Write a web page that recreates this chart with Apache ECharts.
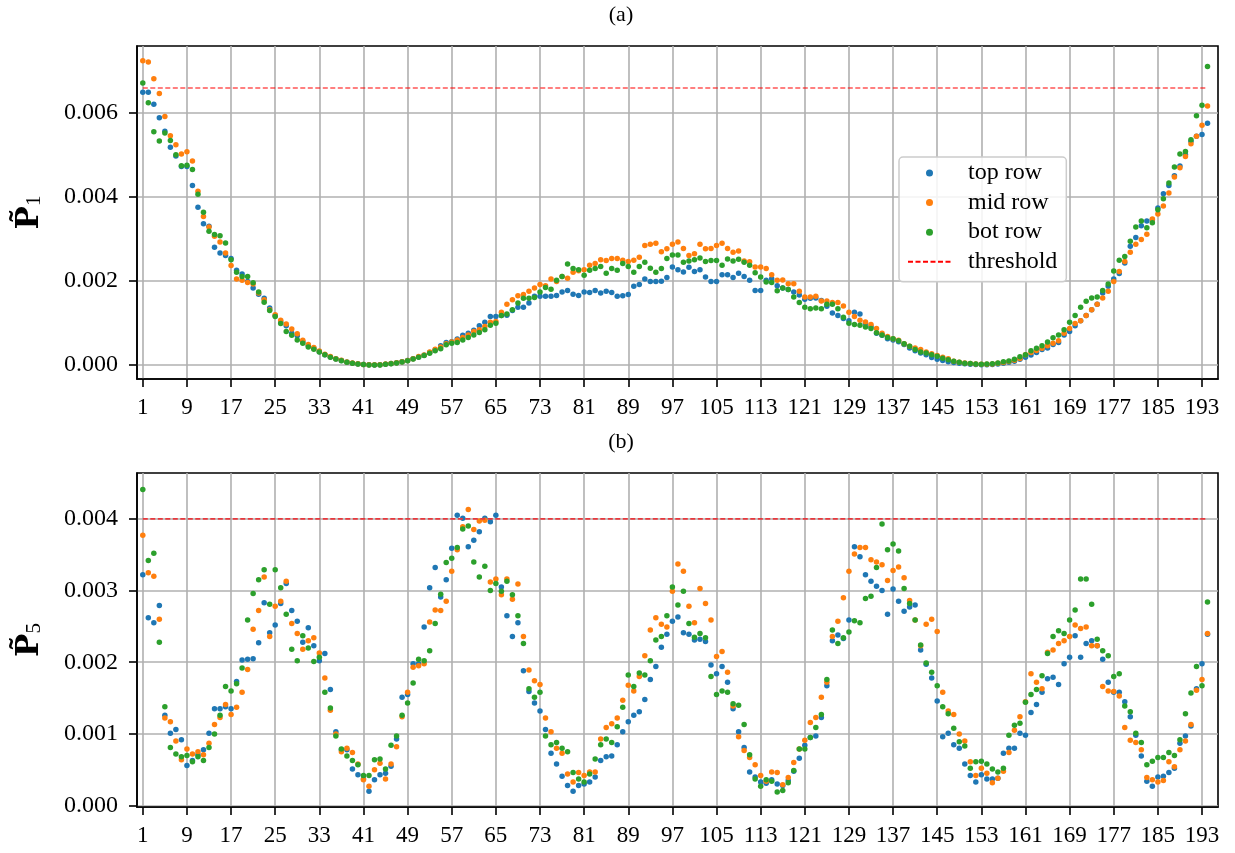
<!DOCTYPE html>
<html><head><meta charset="utf-8">
<script src="https://cdn.jsdelivr.net/npm/echarts@6/dist/echarts.min.js"></script>
<style>html,body{margin:0;padding:0;background:#fff}#c{width:1235px;height:853px}</style>
</head><body><div id="c"></div>
<script>
// values are in units of 1e-3
const xTicks = [1,9,17,25,33,41,49,57,65,73,81,89,97,105,113,121,129,137,145,153,161,169,177,185,193];
const p1Ticks = [0,2,4,6];
const p5Ticks = [0,1,2,3,4];
const p1Threshold = 6.60;
const p5Threshold = 4.00;

const p1Top = [
6.50,6.50,6.21,5.89,5.57,5.19,4.98,4.73,4.73,4.28,
3.76,3.37,3.31,2.81,2.67,2.61,2.54,2.26,2.17,1.99,
1.84,1.69,1.59,1.36,1.18,1.03,0.94,0.76,0.70,0.56,
0.46,0.40,0.32,0.25,0.195,0.148,0.108,0.070,0.046,0.030,
0.016,0.008,0.006,0.008,0.022,0.038,0.055,0.078,0.110,0.150,
0.195,0.238,0.30,0.365,0.46,0.54,0.56,0.62,0.71,0.76,
0.83,0.94,1.02,1.16,1.16,1.18,1.19,1.30,1.38,1.38,
1.48,1.64,1.64,1.64,1.64,1.66,1.74,1.78,1.69,1.66,
1.74,1.73,1.78,1.72,1.76,1.73,1.64,1.65,1.68,1.88,
1.92,2.05,1.99,1.99,2.00,2.09,2.34,2.27,2.22,2.33,
2.23,2.27,2.10,1.99,1.99,2.15,2.15,2.09,2.19,2.11,
2.02,1.78,1.78,2.02,2.06,1.89,1.84,1.80,1.74,1.67,
1.57,1.59,1.60,1.54,1.40,1.24,1.18,1.11,1.06,1.26,
1.22,1.00,0.92,0.76,0.71,0.63,0.60,0.56,0.49,0.41,
0.34,0.29,0.25,0.18,0.143,0.111,0.079,0.060,0.045,0.032,
0.024,0.016,0.010,0.010,0.018,0.030,0.048,0.070,0.095,0.143,
0.19,0.24,0.30,0.37,0.41,0.49,0.54,0.72,0.80,0.94,
1.06,1.18,1.32,1.45,1.72,1.88,2.05,2.18,2.43,2.83,
3.04,3.32,3.43,3.46,3.74,4.08,4.28,4.51,4.74,5.01,
5.33,5.45,5.49,5.76];
const p1Mid = [
7.25,7.22,6.82,6.47,5.92,5.46,5.25,5.03,5.08,4.86,
4.14,3.54,3.29,3.07,2.93,2.67,2.37,2.05,2.02,1.97,
1.93,1.72,1.56,1.32,1.20,1.07,0.98,0.86,0.75,0.59,
0.49,0.42,0.334,0.262,0.203,0.155,0.115,0.075,0.050,0.034,
0.018,0.010,0.010,0.012,0.026,0.042,0.058,0.082,0.113,0.153,
0.203,0.242,0.31,0.38,0.43,0.51,0.55,0.60,0.66,0.72,
0.80,0.84,0.92,1.02,1.04,1.26,1.45,1.56,1.65,1.68,
1.76,1.84,1.92,1.89,2.05,1.99,2.11,2.07,2.21,2.25,
2.27,2.38,2.42,2.51,2.49,2.54,2.54,2.50,2.47,2.50,
2.57,2.85,2.88,2.90,2.70,2.77,2.88,2.93,2.78,2.61,
2.65,2.88,2.77,2.78,2.85,2.90,2.78,2.69,2.72,2.48,
2.46,2.34,2.34,2.30,2.15,2.02,2.03,1.94,1.94,1.76,
1.62,1.62,1.64,1.53,1.53,1.49,1.49,1.41,1.26,1.16,
1.07,1.03,0.97,0.87,0.76,0.68,0.63,0.59,0.51,0.45,
0.41,0.37,0.31,0.27,0.23,0.19,0.151,0.095,0.068,0.050,
0.040,0.030,0.022,0.022,0.030,0.046,0.064,0.087,0.119,0.159,
0.25,0.30,0.35,0.40,0.46,0.52,0.58,0.76,0.87,0.99,
1.06,1.18,1.32,1.45,1.60,1.76,1.99,2.23,2.47,2.69,
2.88,2.99,3.12,3.48,3.60,3.79,4.10,4.48,4.70,4.97,
5.27,5.45,5.71,6.17];
const p1Bot = [
6.72,6.25,5.56,5.34,5.53,5.35,5.01,4.75,4.76,4.66,
4.07,3.64,3.19,3.11,3.08,2.91,2.51,2.21,2.11,2.11,
1.96,1.74,1.50,1.30,1.16,0.99,0.80,0.71,0.60,0.52,
0.43,0.38,0.31,0.245,0.19,0.145,0.105,0.068,0.044,0.028,
0.014,0.006,0.004,0.006,0.020,0.036,0.052,0.075,0.106,0.148,
0.190,0.230,0.286,0.342,0.389,0.485,0.524,0.54,0.60,0.66,
0.72,0.78,0.84,0.95,1.00,1.18,1.22,1.32,1.48,1.59,
1.59,1.61,1.74,1.85,1.81,2.02,2.11,2.41,2.30,2.27,
2.14,2.26,2.30,2.35,2.19,2.30,2.26,2.42,2.35,2.21,
2.35,2.45,2.31,2.21,2.30,2.54,2.62,2.62,2.45,2.48,
2.51,2.55,2.47,2.49,2.49,2.38,2.53,2.48,2.52,2.45,
2.38,2.20,2.10,1.98,1.97,1.77,1.84,1.80,1.62,1.49,
1.38,1.34,1.36,1.34,1.45,1.45,1.34,1.14,1.00,0.97,
0.95,0.91,0.87,0.77,0.72,0.66,0.63,0.58,0.51,0.45,
0.37,0.31,0.29,0.25,0.21,0.167,0.127,0.090,0.066,0.048,
0.038,0.030,0.024,0.026,0.036,0.052,0.080,0.100,0.143,0.199,
0.25,0.34,0.40,0.46,0.55,0.65,0.72,0.84,1.02,1.18,
1.38,1.52,1.60,1.62,1.78,1.93,2.24,2.50,2.59,2.95,
3.29,3.43,3.27,3.39,3.70,3.96,4.34,4.72,5.03,5.09,
5.37,5.94,6.19,7.11];

const p5Top = [
3.22,2.62,2.55,2.79,1.26,1.01,1.06,0.92,0.56,0.63,
0.71,0.78,1.01,1.35,1.35,1.38,1.35,1.73,2.03,2.04,
2.05,2.27,2.83,2.41,2.52,2.82,3.10,2.72,2.57,2.28,
2.48,2.23,2.02,2.12,1.62,1.03,0.78,0.78,0.51,0.43,
0.37,0.20,0.36,0.43,0.45,0.55,0.93,1.51,1.55,1.98,
1.98,2.49,3.04,3.32,2.91,3.15,3.59,4.05,4.01,3.61,
3.70,3.82,4.01,3.96,4.05,3.05,2.65,2.36,2.55,1.88,
1.59,1.43,1.32,1.06,0.73,0.58,0.41,0.28,0.20,0.28,
0.30,0.33,0.40,0.63,0.68,0.69,0.85,1.03,1.17,1.26,
1.31,1.48,1.76,1.94,2.21,2.39,2.57,2.63,2.41,2.39,
2.31,2.32,2.29,1.96,1.84,1.94,1.72,1.35,1.03,0.81,
0.47,0.40,0.33,0.31,0.36,0.30,0.28,0.35,0.48,0.66,
0.84,0.95,0.97,1.23,1.67,2.30,2.38,2.33,2.59,3.61,
3.47,3.22,3.13,3.06,3.00,2.67,3.02,2.85,2.71,2.77,
2.80,2.17,1.97,1.78,1.46,0.96,1.01,0.85,0.80,0.58,
0.42,0.33,0.43,0.37,0.37,0.38,0.73,0.80,0.80,1.01,
0.98,1.30,1.41,1.58,1.77,1.79,1.69,1.98,2.07,2.37,
2.07,2.26,2.30,2.23,2.04,1.72,1.58,1.58,1.45,1.24,
0.98,0.69,0.34,0.27,0.40,0.41,0.46,0.52,0.87,0.97,
1.11,1.63,1.98,2.39];
const p5Mid = [
3.77,3.25,3.20,2.60,1.22,1.17,0.90,0.64,0.79,0.72,
0.75,0.71,0.87,1.13,1.23,1.41,1.27,1.37,1.58,1.90,
2.46,2.72,3.19,2.36,2.78,2.85,3.13,2.54,2.40,2.18,
2.30,2.34,2.13,1.78,1.33,1.00,0.75,0.80,0.74,0.58,
0.36,0.27,0.50,0.59,0.37,0.58,0.82,1.24,1.58,1.93,
1.95,1.98,2.56,2.73,2.72,2.85,3.27,3.57,3.89,4.13,
3.85,3.97,3.98,3.12,3.16,2.94,3.16,2.88,3.09,2.36,
1.89,1.74,1.69,1.22,1.03,0.80,0.73,0.44,0.33,0.46,
0.42,0.47,0.47,0.93,1.09,1.14,1.22,1.47,1.68,1.60,
1.80,2.09,2.45,2.62,2.53,2.49,2.99,3.37,3.27,2.78,
2.55,3.03,2.82,2.59,2.08,2.15,1.86,1.39,0.96,0.77,
0.67,0.57,0.42,0.34,0.47,0.46,0.29,0.39,0.60,0.79,
0.91,1.16,1.23,1.51,1.72,2.36,2.57,2.90,3.27,3.51,
3.60,3.60,3.43,3.40,3.36,3.14,3.28,3.33,3.18,2.86,
2.59,2.23,2.53,2.60,2.43,1.58,1.32,1.27,1.00,0.90,
0.61,0.42,0.52,0.45,0.32,0.38,0.48,0.74,1.05,1.24,
1.45,1.84,1.72,1.63,2.14,2.17,2.26,2.30,2.36,2.52,
2.47,2.49,2.23,2.23,1.66,1.60,1.59,1.53,1.09,0.91,
0.88,0.78,0.39,0.36,0.33,0.35,0.61,0.54,0.78,0.90,
1.13,1.61,1.76,2.40];
const p5Bot = [
4.41,3.42,3.52,2.28,1.38,0.81,0.72,0.68,0.70,0.61,
0.68,0.63,0.81,1.00,1.26,1.66,1.60,1.70,1.92,2.59,
2.96,3.15,3.29,2.81,3.29,3.04,2.67,2.18,2.02,2.37,
2.20,2.01,2.07,1.58,1.36,0.97,0.79,0.69,0.63,0.57,
0.42,0.42,0.64,0.65,0.51,0.84,0.97,1.26,1.43,1.71,
2.04,2.02,2.16,2.54,2.95,3.39,3.45,3.60,3.86,3.90,
3.40,3.19,3.34,3.00,3.10,2.99,3.13,2.94,2.65,2.26,
1.63,1.51,1.58,0.97,0.85,0.88,0.80,0.75,0.46,0.37,
0.33,0.44,0.65,0.85,0.93,0.88,1.10,1.37,1.82,1.66,
1.85,1.82,2.02,2.31,2.36,2.65,3.05,2.80,2.99,2.54,
2.35,2.40,2.34,1.80,1.55,1.60,1.58,1.42,1.40,1.13,
0.71,0.37,0.27,0.36,0.34,0.19,0.21,0.32,0.49,0.79,
0.79,0.95,1.09,1.27,1.76,2.45,2.26,2.34,2.42,2.58,
2.55,2.89,2.92,3.32,3.93,3.57,3.65,3.55,3.03,2.82,
2.59,2.24,1.99,1.86,1.67,1.38,1.28,1.08,0.89,0.83,
0.52,0.61,0.62,0.58,0.51,0.47,0.52,0.98,1.12,1.15,
1.44,1.55,1.62,1.81,2.12,2.36,2.44,2.40,2.59,2.73,
3.16,3.16,2.81,2.32,2.16,2.09,1.80,1.84,1.39,1.31,
1.01,0.88,0.57,0.62,0.67,0.67,0.74,0.70,0.92,1.28,
1.57,1.94,1.67,2.84];

const seriesNames = ['top row','mid row','bot row'];
const colors = ['#1f77b4','#ff7f0e','#2ca02c'];

[p1Top,p1Mid,p1Bot,p5Top,p5Mid,p5Bot].forEach((a,k)=>{ if(a.length!==194) throw new Error('array '+k+' has '+a.length); });

const serif = 'Liberation Serif';
const positions = p1Top.map((_, i) => i + 1);

function scatter(name, color, arr, g) {
  return { type:'scatter', name, xAxisIndex:g, yAxisIndex:g, symbol:'circle', symbolSize:5.5,
    itemStyle:{ color, opacity:1 }, silent:true,
    data: arr.map((v,i)=>[positions[i], v]) };
}
function thresholdLine(val, g, color, width) {
  return { type:'line', name:'threshold', xAxisIndex:g, yAxisIndex:g, symbol:'none', silent:true,
    itemStyle:{ color },
    lineStyle:{ color, width, type:[5,2.5] },
    data: [[positions[0], val],[positions[positions.length-1], val]] };
}
function xAxis(g) {
  return { type:'value', gridIndex:g, min:-0.05, max:195.9,
    axisLine:{ show:true, onZero:false, lineStyle:{ color:'#000', width:1.6 } },
    axisTick:{ show:true, length:8, customValues:xTicks, lineStyle:{ color:'#000', width:1.6 } },
    axisLabel:{ customValues:xTicks, fontFamily:serif, fontSize:23, color:'#000', margin:17 },
    splitLine:{ show:true, lineStyle:{ color:'#b0b0b0', width:1.6 } } };
}
function yAxis(g, min, max, ticks, sub) {
  return { type:'value', gridIndex:g, min, max,
    axisLine:{ show:true, onZero:false, lineStyle:{ color:'#000', width:1.6 } },
    axisTick:{ show:true, length:8, customValues:ticks, lineStyle:{ color:'#000', width:1.6 } },
    axisLabel:{ customValues:ticks, fontFamily:serif, fontSize:24, color:'#000', margin:19,
      formatter: v => (v/1000).toFixed(3) },
    splitLine:{ show:true, lineStyle:{ color:'#b0b0b0', width:1.6 } },
    name:'{p|P\u0303}{s|' + sub + '}', nameLocation:'middle', nameGap:92, nameRotate:90, nameMoveOverlap:false,
    nameTextStyle:{ rich:{
      p:{ fontFamily:'DejaVu Serif', fontWeight:'bold', fontSize:31, color:'#000' },
      s:{ fontFamily:serif, fontSize:21, color:'#000', verticalAlign:'bottom' } } } };
}

const chart = echarts.init(document.getElementById('c'), null, { renderer:'canvas' });
chart.setOption({
  animation:false,
  backgroundColor:'#fff',
  grid:[
    { left:137, top:46, width:1081, height:333, show:true, borderColor:'#000', borderWidth:1.6, containLabel:false, outerBoundsMode:'none' },
    { left:137, top:473, width:1081, height:334, show:true, borderColor:'#000', borderWidth:1.6, containLabel:false, outerBoundsMode:'none' }
  ],
  xAxis:[ xAxis(0), xAxis(1) ],
  yAxis:[ yAxis(0, -0.33, 7.6, p1Ticks, '1'), yAxis(1, -0.02, 4.64, p5Ticks, '5') ],
  graphic:[
    { type:'text', x:621, y:15, style:{ text:'(a)', fontFamily:serif, fontSize:22, fill:'#000', align:'center', verticalAlign:'middle' } },
    { type:'text', x:621, y:442, style:{ text:'(b)', fontFamily:serif, fontSize:22, fill:'#000', align:'center', verticalAlign:'middle' } }
  ],
  legend:{
    show:true, orient:'vertical', left:899, top:157, selectedMode:false,
    padding:[4, 9, 8, 8], backgroundColor:'rgba(255,255,255,0.85)', borderColor:'#cccccc', borderWidth:1.5, borderRadius:4,
    itemWidth:43, itemHeight:7, itemGap:5.6,
    textStyle:{ fontFamily:serif, fontSize:24, color:'#000', lineHeight:24, padding:[0,0,0,12] },
    data:[ {name:'top row', icon:'circle'}, {name:'mid row', icon:'circle'}, {name:'bot row', icon:'circle'},
           {name:'threshold', itemStyle:{ opacity:0 }} ]
  },
  series:[
    scatter(seriesNames[0], colors[0], p1Top, 0),
    scatter(seriesNames[1], colors[1], p1Mid, 0),
    scatter(seriesNames[2], colors[2], p1Bot, 0),
    thresholdLine(p1Threshold, 0, '#ff0000', 1.1),
    scatter(seriesNames[0], colors[0], p5Top, 1),
    scatter(seriesNames[1], colors[1], p5Mid, 1),
    scatter(seriesNames[2], colors[2], p5Bot, 1),
    thresholdLine(p5Threshold, 1, '#e8383d', 1.6)
  ]
});
</script></body></html>
